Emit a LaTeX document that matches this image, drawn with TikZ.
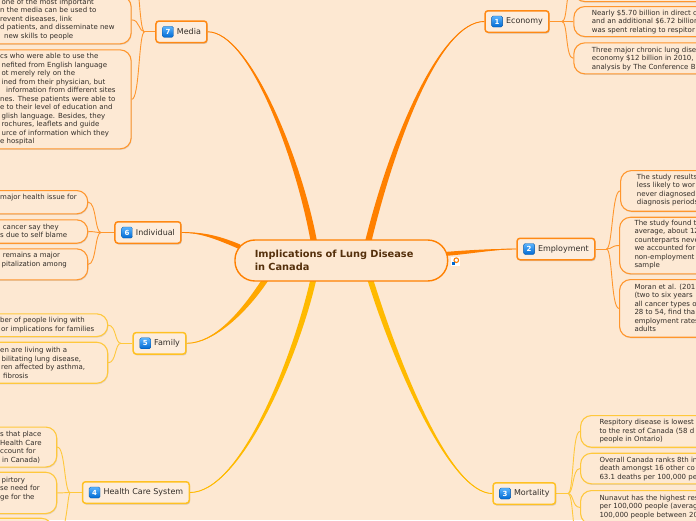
\documentclass[tikz,border=0pt]{standalone}
\usepackage{fontspec}
\setmainfont{DejaVu Sans}
\usetikzlibrary{shadows,calc}
\definecolor{bg}{RGB}{253,232,210}
\definecolor{boxfill}{RGB}{253,237,221}
\definecolor{leaffill}{RGB}{253,233,212}
\definecolor{org}{RGB}{255,128,0}
\definecolor{orgB}{RGB}{255,137,20}
\definecolor{orgL}{RGB}{255,150,45}
\definecolor{gld}{RGB}{255,186,0}
\definecolor{gldB}{RGB}{255,193,35}
\definecolor{gldL}{RGB}{255,200,60}
\definecolor{famc}{RGB}{255,168,0}
\definecolor{txt}{RGB}{50,45,40}
\definecolor{titlec}{RGB}{85,48,12}
\definecolor{iconT}{RGB}{90,180,255}
\definecolor{iconB}{RGB}{0,105,210}
\pgfdeclarelayer{back}
\pgfdeclarelayer{conn}
\pgfsetlayers{back,conn,main}
\begin{document}
\begin{tikzpicture}[x=1pt,y=-1pt,
  branch/.style={draw=#1, line width=1.5pt, fill=boxfill, rounded corners=3pt, minimum height=21.5pt, inner xsep=6pt, inner ysep=0pt, font=\fontsize{8}{9.6}\selectfont, text=txt, drop shadow={shadow xshift=0.8pt, shadow yshift=-1.3pt, opacity=0.3, fill=black!50}},
  leaf/.style={draw=#1, line width=1.1pt, fill=leaffill, rounded corners=11pt, inner sep=0pt, anchor=north west, drop shadow={shadow xshift=0.6pt, shadow yshift=-1.1pt, opacity=0.22, fill=black!50}},
  ltext/.style={anchor=west, align=left, inner sep=0pt, font=\fontsize{7}{8.5}\selectfont, text=txt},
  icon/.style={rounded corners=1.5pt, minimum size=11pt, inner sep=0pt, top color=iconT, bottom color=iconB, draw=iconB!80!black, line width=0.3pt, text=white, font=\bfseries\fontsize{7}{7}\selectfont},
  sub/.style={draw=#1, line width=0.9pt},
]
\useasboundingbox (0,0) rectangle (696,520);
\begin{pgfonlayer}{back}
\fill[bg] (0,0) rectangle (696,520);
\end{pgfonlayer}

% ---------- leaves: Economy ----------
\node[leaf=orgL, minimum width=190pt, minimum height=31pt] (e0) at (573.3,-30) {};
\node[leaf=orgL, minimum width=190pt, minimum height=30pt] (e1) at (573.3,6) {};
\node[ltext] (e1t) at (591.7,21.7) {Nearly \$5.70 billion in direct c\\and an additional \$6.72 billion\\was spent relating to respitor};
\node[leaf=orgL, minimum width=190pt, minimum height=31pt] (e2) at (573.3,42.3) {};
\node[ltext] (e2t) at (591.7,58.6) {Three major chronic lung dise\\economy \$12 billion in 2010,\\analysis by The Conference B};

% ---------- leaves: Employment ----------
\node[leaf=orgL, minimum width=150pt, minimum height=40.7pt] (l1) at (620,170) {};
\node[ltext] (l1t) at (636.7,190.2) {The study results\\less likely to wor\\never diagnosed\\diagnosis periods};
\node[leaf=orgL, minimum width=150pt, minimum height=56.6pt] (l2) at (619,216.7) {};
\node[ltext] (l2t) at (634.3,244.7) {The study found t\\average, about 12\\counterparts neve\\we accounted for\\non-employment\\sample};
\node[leaf=orgL, minimum width=150pt, minimum height=57.7pt] (l3) at (619,279) {};
\node[ltext] (l3t) at (634.3,307.8) {Moran et al. (201\\(two to six years\\all cancer types o\\28 to 54, find tha\\employment rates\\adults};

% ---------- leaves: Mortality ----------
\node[leaf=gldL, minimum width=190pt, minimum height=31.7pt] (m1) at (580,415) {};
\node[ltext] (m1t) at (599.3,431.5) {Respitory disease is lowest\\to the rest of Canada (58 d\\people in Ontario)};
\node[leaf=gldL, minimum width=190pt, minimum height=30.6pt] (m2) at (580,452.7) {};
\node[ltext] (m2t) at (599.3,469) {Overall Canada ranks 8th in\\death amongst 16 other co\\63.1 deaths per 100,000 pe};
\node[leaf=gldL, minimum width=190pt, minimum height=33.7pt] (m3) at (580,490) {};
\node[ltext] (m3t) at (599.3,506.7) {Nunavut has the highest res\\per 100,000 people (averag\\100,000 people between 20};
\node[leaf=gldL, minimum width=190pt, minimum height=30pt] (m4) at (580,530) {};

% ---------- leaves: Health Care System ----------
\node[leaf=gldL, anchor=north east, minimum width=200pt, minimum height=40pt] (h1) at (57.3,426.5) {};
\node[ltext] (h1t) at (0,447.3) {s that place\\Health Care\\ccount for\\\hspace*{2pt}in Canada)};
\node[leaf=gldL, anchor=north east, minimum width=200pt, minimum height=41.3pt] (h2) at (57.3,471.7) {};
\node[ltext] (h2t) at (0,489) {\hspace*{1.5pt}pirtory\\se need for\\ge for the};
\node[leaf=gldL, anchor=north east, minimum width=200pt, minimum height=50pt] (h3) at (53,517.7) {};

% ---------- leaves: Family ----------
\node[leaf=gldL, anchor=north east, minimum width=200pt, minimum height=22.7pt] (f1) at (108.3,313.3) {};
\node[ltext] (f1t) at (0,325) {ber of people living with\\\hspace*{1pt}or implications for families};
\node[leaf=gldL, anchor=north east, minimum width=200pt, minimum height=41pt] (f2) at (108.3,341.7) {};
\node[ltext] (f2t) at (0,362.8) {en are living with a\\\hspace*{1.5pt}bilitating lung disease,\\\hspace*{1pt}ren affected by asthma,\\\hspace*{3pt}fibrosis};

% ---------- leaves: Individual ----------
\node[leaf=orgL, anchor=north east, minimum width=200pt, minimum height=23.3pt] (i1) at (88.3,190) {};
\node[ltext] (i1t) at (0,197.3) {major health issue for};
\node[leaf=orgL, anchor=north east, minimum width=200pt, minimum height=23.4pt] (i2) at (88.3,219.3) {};
\node[ltext] (i2t) at (0,230.9) {\hspace*{2.7pt}cancer say they\\s due to self blame};
\node[leaf=orgL, anchor=north east, minimum width=200pt, minimum height=31pt] (i3) at (88.3,248.3) {};
\node[ltext] (i3t) at (0,260.3) {\hspace*{2.7pt}remains a major\\\hspace*{1.5pt}pitalization among};

% ---------- leaves: Media ----------
\node[leaf=orgL, anchor=north east, minimum width=200pt, minimum height=45pt] (me0) at (131.7,-60) {};
\node[leaf=orgL, anchor=north east, minimum width=200pt, minimum height=48pt] (me1) at (131.7,-4.7) {};
\node[ltext] (me1t) at (0,19.1) {\hspace*{1.5pt}one of the most important\\n the media can be used to\\revent diseases, link\\d patients, and disseminate new\\\hspace*{4pt}new skills to people};
\node[leaf=orgL, anchor=north east, minimum width=200pt, minimum height=99pt] (me2) at (131.7,49.3) {};
\node[ltext] (me2t) at (0,99.2) {cs who were able to use the\\\hspace*{1.5pt}nefited from English language\\\hspace*{1.5pt}ot merely rely on the\\\hspace*{1.5pt}ined from their physician, but\\\hspace*{6pt}information from different sites\\nes. These patients were able to\\e to their level of education and\\\hspace*{1.5pt}glish language. Besides, they\\\hspace*{1.5pt}rochures, leaflets and guide\\\hspace*{1.5pt}urce of information which they\\e hospital};

% ---------- branch nodes ----------
\node[branch=orgB, anchor=west] (eco) at (484.3,21.5) {\hspace{15pt}Economy};
\node[icon] (eco-i) at ([xshift=12.8pt]eco.west) {1};
\node[branch=orgB, anchor=west] (emp) at (516.3,249) {\hspace{15pt}Employment};
\node[icon] (emp-i) at ([xshift=12.8pt]emp.west) {2};
\node[branch=gldB, anchor=west] (mort) at (492.3,493.5) {\hspace{15pt}Mortality};
\node[icon] (mort-i) at ([xshift=12.8pt]mort.west) {3};
\node[branch=gldB, anchor=east] (hcs) at (190,492.5) {\hspace{15pt}Health Care System};
\node[icon] (hcs-i) at ([xshift=12.8pt]hcs.west) {4};
\node[branch=gldB, anchor=east] (fam) at (186.7,343.3) {\hspace{15pt}Family};
\node[icon] (fam-i) at ([xshift=12.8pt]fam.west) {5};
\node[branch=orgB, anchor=east] (ind) at (181.7,232.5) {\hspace{15pt}Individual};
\node[icon] (ind-i) at ([xshift=12.8pt]ind.west) {6};
\node[branch=orgB, anchor=east] (med) at (207.7,31.8) {\hspace{15pt}Media};
\node[icon] (med-i) at ([xshift=12.8pt]med.west) {7};

% ---------- central ----------
\node[draw=org, line width=1.4pt, fill=bg, rounded corners=20pt, minimum width=212.7pt, minimum height=41pt, text width=173pt, align=left, inner xsep=19.85pt, inner ysep=2pt, font=\bfseries\fontsize{9.8}{13}\selectfont, text=titlec] (root) at (341.3,260.5) {Implications of Lung Disease\\in Canada};

% link icon
\node[fill=white, minimum size=9pt, inner sep=0pt] (lnk) at (455.5,261) {};
\draw[org, line width=1.1pt] ([xshift=0.8pt,yshift=0.8pt]lnk.center) circle[radius=2.3pt];
\fill[iconB] ([xshift=-3.6pt,yshift=-0.5pt]lnk.center) rectangle ([xshift=-0.3pt,yshift=-3.8pt]lnk.center);

% ---------- connectors ----------
\begin{pgfonlayer}{conn}
\coordinate (r1) at ([xshift=27pt,yshift=-2pt]root.north);
\coordinate (r7) at ([xshift=-27.5pt,yshift=-2pt]root.north);
\coordinate (r3) at ([xshift=29pt,yshift=2pt]root.south);
\coordinate (r4) at ([xshift=-28pt,yshift=2pt]root.south);
\coordinate (r5) at ([xshift=-76pt,yshift=2pt]root.south);
\coordinate (r6) at ([xshift=6pt,yshift=13.5pt]root.west);
\coordinate (r2) at ([xshift=-4pt,yshift=6.5pt]root.east);

% Economy
\fill[org] ([xshift=-3.2pt]r1) .. controls (390,140) and (440,20.7) .. (eco.west) .. controls (440,22.3) and (396,140) .. ([xshift=3.2pt]r1) -- cycle;
\draw[org, line width=0.9pt] (r1) .. controls (393,140) and (440,21.5) .. (eco.west);
% Media
\fill[org] ([xshift=-3.2pt]r7) .. controls (296,160) and (250,32.6) .. (med.east) .. controls (250,31) and (302,160) .. ([xshift=3.2pt]r7) -- cycle;
\draw[org, line width=0.9pt] (r7) .. controls (299,160) and (250,31.8) .. (med.east);
% Employment
\fill[org] ([yshift=2pt]r2) .. controls (470,250) and (495,248.6) .. (emp.west) .. controls (495,249.4) and (470,254) .. ([yshift=-2pt]r2) -- cycle;
\draw[org, line width=0.9pt] (r2) .. controls (470,252) and (495,249) .. (emp.west);
% Individual
\fill[org] ([yshift=2.5pt]r6) .. controls (215,234) and (200,232.1) .. (ind.east) .. controls (200,232.9) and (215,238.5) .. ([yshift=-2.5pt]r6) -- cycle;
\draw[org, line width=0.9pt] (r6) .. controls (215,236) and (200,232.5) .. (ind.east);
% Family
\fill[famc] ([xshift=-3.5pt]r5) .. controls (242,310) and (215,342.7) .. (fam.east) .. controls (215,343.9) and (249,310) .. ([xshift=3.5pt]r5) -- cycle;
\draw[famc, line width=0.9pt] (r5) .. controls (245,310) and (215,343.3) .. (fam.east);
% Health Care System
\fill[gld] ([xshift=-3pt]r4) .. controls (292,360) and (240,491.7) .. (hcs.east) .. controls (240,493.3) and (298,360) .. ([xshift=3pt]r4) -- cycle;
\draw[gld, line width=0.9pt] (r4) .. controls (295,360) and (240,492.5) .. (hcs.east);
% Mortality
\fill[gld] ([xshift=-3pt]r3) .. controls (394,365) and (450,494.3) .. (mort.west) .. controls (450,492.7) and (400,365) .. ([xshift=3pt]r3) -- cycle;
\draw[gld, line width=0.9pt] (r3) .. controls (397,365) and (450,493.5) .. (mort.west);

% sub-connectors
\draw[sub=orgL] (eco.east) -- ++(12.3,0) coordinate (ecoJ);
\draw[sub=orgL] (ecoJ) .. controls +(6,0) and +(-8,0) .. (e0.west);
\draw[sub=orgL] (ecoJ) .. controls +(6,0) and +(-8,0) .. (e1.west);
\draw[sub=orgL] (ecoJ) .. controls +(6,0) and +(-8,0) .. (e2.west);

\draw[sub=orgL] (emp.east) -- ++(11,0) coordinate (empJ);
\draw[sub=orgL] (empJ) .. controls +(6,0) and +(-8,0) .. (l1.west);
\draw[sub=orgL] (empJ) .. controls +(6,0) and +(-8,0) .. (l2.west);
\draw[sub=orgL] (empJ) .. controls +(6,0) and +(-8,0) .. (l3.west);

\draw[sub=gldL] (mort.east) -- ++(11.7,0) coordinate (mortJ);
\draw[sub=gldL] (mortJ) .. controls +(6,0) and +(-8,0) .. (m1.west);
\draw[sub=gldL] (mortJ) .. controls +(6,0) and +(-8,0) .. (m2.west);
\draw[sub=gldL] (mortJ) .. controls +(6,0) and +(-8,0) .. (m3.west);
\draw[sub=gldL] (mortJ) .. controls +(6,0) and +(-8,0) .. (m4.west);

\draw[sub=gldL] (hcs.west) -- ++(-11.6,0) coordinate (hcsJ);
\draw[sub=gldL] (hcsJ) .. controls +(-6,0) and +(8,0) .. (h1.east);
\draw[sub=gldL] (hcsJ) .. controls +(-6,0) and +(8,0) .. (h2.east);
\draw[sub=gldL] (hcsJ) .. controls +(-3,0) and +(14,0) .. (h3.east);

\draw[sub=gldL] (fam.west) -- ++(-11.6,0) coordinate (famJ);
\draw[sub=gldL] (famJ) .. controls +(-6,0) and +(8,0) .. (f1.east);
\draw[sub=gldL] (famJ) .. controls +(-6,0) and +(8,0) .. (f2.east);

\draw[sub=orgL] (ind.west) -- ++(-13.3,0) coordinate (indJ);
\draw[sub=orgL] (indJ) .. controls +(-6,0) and +(8,0) .. (i1.east);
\draw[sub=orgL] (indJ) .. controls +(-6,0) and +(8,0) .. (i2.east);
\draw[sub=orgL] (indJ) .. controls +(-6,0) and +(8,0) .. (i3.east);

\draw[sub=orgL] (med.west) -- ++(-10.6,0) coordinate (medJ);
\draw[sub=orgL] (medJ) .. controls +(-6,0) and +(8,0) .. (me0.east);
\draw[sub=orgL] (medJ) .. controls +(-6,0) and +(8,0) .. (me1.east);
\draw[sub=orgL] (medJ) .. controls +(-6,0) and +(8,0) .. (me2.east);
\end{pgfonlayer}
\end{tikzpicture}
\end{document}
